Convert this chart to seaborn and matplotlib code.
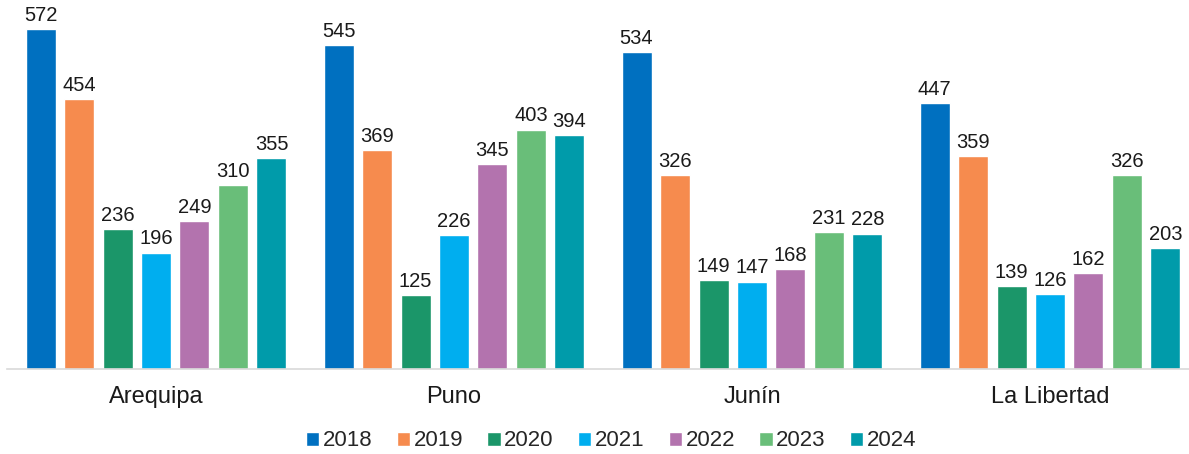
import matplotlib
matplotlib.use("Agg")
import matplotlib.pyplot as plt
import seaborn as sns
import pandas as pd

regions = ["Arequipa", "Puno", "Junín", "La Libertad"]
years = ["2018", "2019", "2020", "2021", "2022", "2023", "2024"]
v2018 = [572, 545, 534, 447]
v2019 = [454, 369, 326, 359]
v2020 = [236, 125, 149, 139]
v2021 = [196, 226, 147, 126]
v2022 = [249, 345, 168, 162]
v2023 = [310, 403, 231, 326]
v2024 = [355, 394, 228, 203]
colors = ["#0070C0", "#F68B4E", "#1B9669", "#00AEEF", "#B373AE", "#69BE79", "#009BAA"]

series = [v2018, v2019, v2020, v2021, v2022, v2023, v2024]
rows = []
for y, vals in zip(years, series):
    for r, v in zip(regions, vals):
        rows.append({"Región": r, "Año": y, "Valor": v})
df = pd.DataFrame(rows)

sns.set_theme(style="white")
plt.rcParams["font.family"] = ["Liberation Sans", "DejaVu Sans"]

W, H = 1189, 454
fig = plt.figure(figsize=(W / 100, H / 100), dpi=100)
left_px, base_px, top_px = 7, 369, 12.5
ax = fig.add_axes([left_px / W, 1 - base_px / H, 1 - left_px / W, (base_px - top_px) / H])

sns.barplot(data=df, x="Región", y="Valor", hue="Año", order=regions,
            hue_order=years, palette=colors, width=0.904, gap=0.22,
            saturation=1, ax=ax, errorbar=None, legend=True)

for c in ax.containers:
    ax.bar_label(c, fmt="%d", padding=3, fontsize=14.5, color="#1a1a1a")

group_px = 298
ax.set_ylim(0, 600)
ax.set_xlim(-0.5, -0.5 + (W - left_px) / group_px)
ax.set_xlabel("")
ax.set_ylabel("")
ax.set_yticks([])
ax.tick_params(axis="x", length=0, labelsize=17, pad=12, colors="#1a1a1a")
for s in ["top", "right", "left"]:
    ax.spines[s].set_visible(False)
ax.spines["bottom"].set_color("#D9D9D9")
ax.spines["bottom"].set_linewidth(1.2)

handles, labels = ax.get_legend_handles_labels()
ax.legend(handles, labels, loc="center", bbox_to_anchor=(0.514, 1 - 441 / H),
          bbox_transform=fig.transFigure, ncol=7, frameon=False, fontsize=16,
          handlelength=0.6, handleheight=0.6, handletextpad=0.15, columnspacing=1.1)

fig.savefig("out.png", dpi=100)
